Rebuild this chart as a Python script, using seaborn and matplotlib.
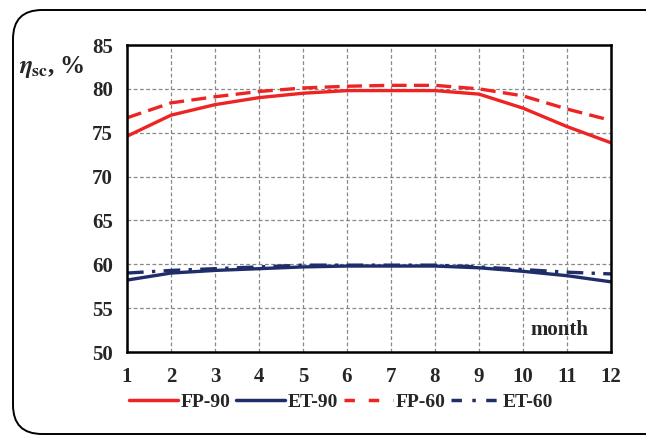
import matplotlib
matplotlib.use("Agg")
import matplotlib.pyplot as plt
import seaborn as sns
import pandas as pd
import numpy as np
from matplotlib.patches import FancyBboxPatch
from matplotlib.lines import Line2D

months = list(range(1, 13))
fp90 = [74.6, 77.0, 78.2, 79.0, 79.5, 79.8, 79.8, 79.8, 79.4, 77.8, 75.7, 73.85]
et90 = [58.2, 59.0, 59.3, 59.5, 59.7, 59.8, 59.8, 59.8, 59.6, 59.2, 58.7, 58.0]
fp60 = [76.7, 78.4, 79.1, 79.7, 80.1, 80.3, 80.4, 80.4, 80.0, 79.2, 77.7, 76.4]
et60 = [59.0, 59.3, 59.5, 59.7, 59.9, 59.9, 59.9, 59.9, 59.7, 59.4, 59.1, 58.9]
series_names = ["FP-90", "ET-90", "FP-60", "ET-60"]
yticks = [50, 55, 60, 65, 70, 75, 80, 85]

sns.set_style("white")
plt.rcParams['font.family'] = ['Liberation Serif', 'DejaVu Serif']
plt.rcParams['font.weight'] = 'bold'
plt.rcParams['mathtext.fontset'] = 'stix'

red = "#EE2424"
navy = "#1F2D6B"
palette = {"FP-90": red, "ET-90": navy, "FP-60": red, "ET-60": navy}
dashes = {"FP-90": "", "ET-90": "", "FP-60": (4.5, 2.2), "ET-60": (5, 2.5, 1, 2.5)}

df = pd.DataFrame({
    "month": months * 4,
    "eta": fp90 + et90 + fp60 + et60,
    "series": sum([[s] * 12 for s in series_names], []),
})

fig = plt.figure(figsize=(6.46, 4.36), dpi=100)
frame = FancyBboxPatch((13 / 646, 2 / 436), 680 / 646, 424 / 436,
                       boxstyle="round,pad=0,rounding_size=0.045",
                       transform=fig.transFigure, fill=False,
                       edgecolor="black", linewidth=1.4, mutation_aspect=646 / 436)
fig.patches.append(frame)

ax = fig.add_axes([127 / 646, 1 - 352 / 436, (611 - 127) / 646, (352 - 45) / 436])
sns.lineplot(data=df, x="month", y="eta", hue="series", style="series",
             palette=palette, dashes=dashes, linewidth=2.4, legend=False, ax=ax)

ax.set_xlim(1, 12)
ax.set_ylim(50, 85)
ax.set_xticks(months)
ax.set_yticks(yticks)
ax.set_xlabel("")
ax.set_ylabel("")
ax.grid(True, color="#888888", linestyle=(0, (3, 2)), linewidth=0.9)
for s in ax.spines.values():
    s.set_visible(True)
    s.set_color("black")
    s.set_linewidth(1.8)
ax.tick_params(axis="y", direction="out", length=7, width=1.8, labelsize=15, pad=3)
ax.tick_params(axis="x", direction="in", length=5, width=1.5, labelsize=15, pad=11)
for lab in ax.get_xticklabels() + ax.get_yticklabels():
    lab.set_fontweight("bold")

ax.text(10.82, 52.5, "month", ha="center", va="center", fontsize=15, fontweight="bold")

fig.text(19 / 646, 1 - 67 / 436, r"$\eta_{\mathbf{sc}}$, %", fontsize=18,
         fontweight="bold", va="center", ha="left")

handles = [
    Line2D([], [], color=red, lw=2.5),
    Line2D([], [], color=navy, lw=2.5),
    Line2D([], [], color=red, lw=2.5, dashes=(3, 4)),
    Line2D([], [], color=navy, lw=2.5, dashes=(3, 3, 1, 3)),
]
fig.legend(handles, series_names, loc="center", bbox_to_anchor=(341 / 646, 1 - 402 / 436),
           ncol=4, frameon=False, handlelength=2.5, handletextpad=0.15, columnspacing=0.3,
           prop={"family": "Liberation Serif", "weight": "bold", "size": 14})

fig.savefig("out.png", dpi=100)
